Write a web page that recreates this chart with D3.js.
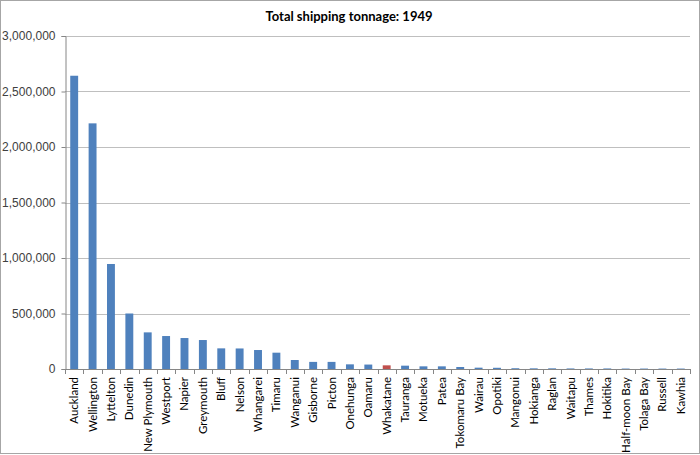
<!DOCTYPE html>
<html>
<head>
<meta charset="utf-8">
<script src="https://cdn.jsdelivr.net/npm/d3@7"></script>
<style>
  body { margin: 0; background: #fff; }
  svg { display: block; font-family: Lato, "Liberation Sans", sans-serif; }
</style>
</head>
<body>
<div id="chart"></div>
<script>
// Ports, largest to smallest
const ports = ["Auckland", "Wellington", "Lyttelton", "Dunedin", "New Plymouth", "Westport",
  "Napier", "Greymouth", "Bluff", "Nelson", "Whangarei", "Timaru", "Wanganui", "Gisborne",
  "Picton", "Onehunga", "Oamaru", "Whakatane", "Tauranga", "Motueka", "Patea", "Tokomaru Bay",
  "Wairau", "Opotiki", "Mangonui", "Hokianga", "Raglan", "Waitapu", "Thames", "Hokitika",
  "Half-moon Bay", "Tolaga Bay", "Russell", "Kawhia"]
const tonnage = [2642000, 2213000, 946000, 500000, 330000, 297000,
  279000, 261000, 186000, 185000, 171000, 147000, 81000, 64000,
  64000, 42000, 40000, 33000, 30000, 24000, 24000, 18000,
  12000, 11000, 7000, 6000, 6000, 5000, 5000, 5000,
  4000, 4000, 4000, 4000]
const highlight = ["Whakatane"]
const yTicks = [0, 500000, 1000000, 1500000, 2000000, 2500000, 3000000]

const width = 700
const height = 455
const margin = { top: 36, right: 10, bottom: 86, left: 65 }

const svg = d3.select("#chart")
    .append("svg")
    .attr("width", width)
    .attr("height", height)

// Outer frame
svg.append("rect")
    .attr("x", 0.5).attr("y", 0.5)
    .attr("width", width - 1).attr("height", height - 2)
    .attr("fill", "#fff")
    .attr("stroke", "#a6a6a6")

const xScale = d3.scaleBand()
    .domain(ports)
    .range([margin.left, width - margin.right])
    .paddingInner(0.57)
    .paddingOuter(0.285)

const yScale = d3.scaleLinear()
    .domain([0, 3000000])
    .range([height - margin.bottom, margin.top])

// Gridlines
svg.append("g")
    .selectAll("line")
    .data(yTicks.slice(1))
    .enter()
    .append("line")
    .attr("x1", margin.left)
    .attr("x2", width - margin.right)
    .attr("y1", d => Math.round(yScale(d)) + 0.5)
    .attr("y2", d => Math.round(yScale(d)) + 0.5)
    .attr("stroke", "#bfbfbf")

// Y axis
const yAxis = d3.axisLeft(yScale)
    .tickValues(yTicks)
    .tickFormat(d3.format(","))
    .tickSize(4)
    .tickPadding(6)

svg.append("g")
    .attr("transform", `translate(${margin.left + 0.5}, 0)`)
    .call(yAxis)
    .call(g => g.selectAll("line, path").attr("stroke", "#868686"))
    .call(g => g.selectAll("text").attr("fill", "#404040").attr("font-size", 12))

// Bars
svg.selectAll("rect.bar")
    .data(ports)
    .enter()
    .append("rect")
    .attr("class", "bar")
    .attr("x", d => xScale(d))
    .attr("y", (d, i) => yScale(tonnage[i]))
    .attr("width", xScale.bandwidth())
    .attr("height", (d, i) => yScale(0) - yScale(tonnage[i]))
    .attr("fill", d => highlight.includes(d) ? "#c0504d" : "#4f81bd")

// X axis: ticks between categories
const step = xScale.step()
const x0 = yScale(0)
const xAxis = svg.append("g")
xAxis.append("line")
    .attr("x1", margin.left).attr("x2", width - margin.right)
    .attr("y1", Math.round(x0) + 0.5).attr("y2", Math.round(x0) + 0.5)
    .attr("stroke", "#868686")
xAxis.selectAll("line.tick")
    .data(d3.range(ports.length + 1))
    .enter()
    .append("line")
    .attr("class", "tick")
    .attr("x1", i => Math.round(margin.left + i * step) + 0.5)
    .attr("x2", i => Math.round(margin.left + i * step) + 0.5)
    .attr("y1", Math.round(x0))
    .attr("y2", Math.round(x0) + 5)
    .attr("stroke", "#868686")
xAxis.selectAll("text")
    .data(ports)
    .enter()
    .append("text")
    .attr("transform", d => `translate(${xScale(d) + xScale.bandwidth() / 2 + 4}, ${x0 + 8}) rotate(-90)`)
    .attr("text-anchor", "end")
    .attr("font-size", 11.5)
    .attr("fill", "#000")
    .text(d => d)

// Title
svg.append("text")
    .attr("x", 349)
    .attr("y", 21)
    .attr("text-anchor", "middle")
    .attr("font-size", 13)
    .attr("font-weight", "bold")
    .text("Total shipping tonnage: 1949")
</script>
</body>
</html>
